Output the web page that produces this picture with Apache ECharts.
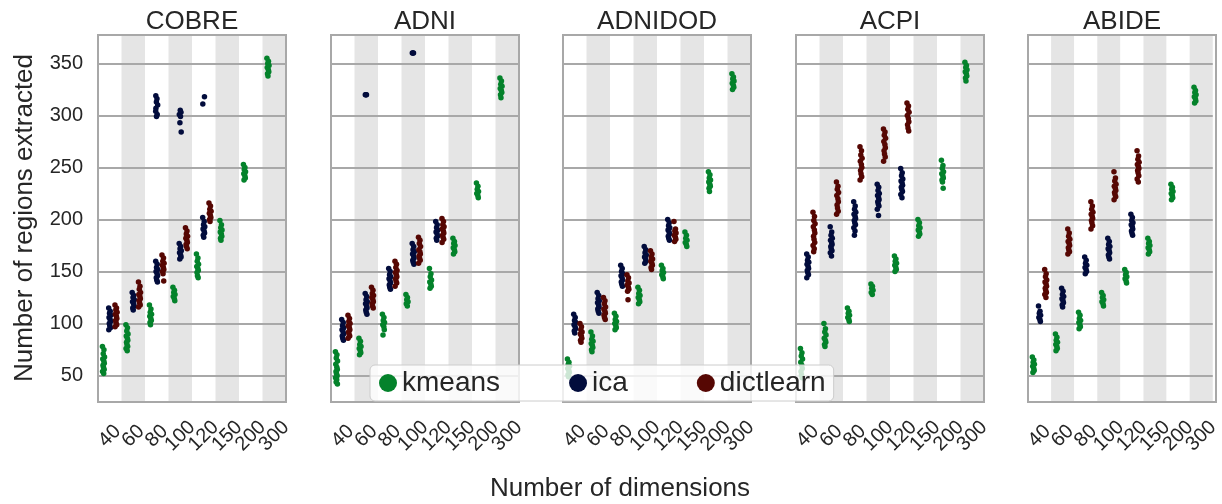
<!DOCTYPE html>
<html><head><meta charset="utf-8">
<script src="https://cdn.jsdelivr.net/npm/echarts@6/dist/echarts.min.js"></script>
<style>html,body{margin:0;padding:0;background:#fff}#c{width:1222px;height:504px}</style>
</head><body><div id="c"></div>
<script>
// ---------- data ----------
const dimensions = ['40','60','80','100','120','150','200','300'];
const datasets = ['COBRE','ADNI','ADNIDOD','ACPI','ABIDE'];
const methods = ['kmeans','ica','dictlearn'];

const COBRE_kmeans = [
 [78,75,71,68,66,64,62,60,58,56,54,52],
 [99,96,93,90,88,86,84,82,80,78,76,74],
 [118,114,111,109,107,105,103,101,99],
 [135,132,130,128,126,124,122],
 [167,163,160,157,155,153,151,149,146,144],
 [199,195,192,190,188,186,184,182,180],
 [253,250,248,246,244,242,240,238],
 [355,352,350,348,346,344,342,340,338]
];
const COBRE_ica = [
 [115,112,110,108,106,104,102,100,98,96,94],
 [130,127,125,123,121,119,117,115,113],
 [160,157,154,152,150,148,146,144,142,140,319,316,313,310,307,304,301,299],
 [177,174,172,170,168,166,164,162,305,303,301,299,293,284],
 [202,198,195,193,191,189,187,185,183,318,311],
 [],[],[]
];
const COBRE_dictlearn = [
 [118,115,113,111,109,107,105,103,101,99,97],
 [140,136,133,130,128,126,124,122,120,118,116],
 [166,163,160,158,156,154,152,150,148,141],
 [192,189,186,184,182,180,178,176,174,172],
 [216,213,210,208,206,204,202,200,198],
 [],[],[]
];

const ADNI_kmeans = [
 [73,70,67,64,61,58,56,54,52,50,48,46,44,42],
 [86,83,80,78,76,74,72,70],
 [109,106,103,101,99,97,94,89],
 [128,125,123,121,119,117],
 [153,148,145,142,140,138,136,134],
 [182,179,177,175,173,171,169,167],
 [235,232,229,227,225,223,221],
 [336,333,330,328,326,324,322,320,317]
];
const ADNI_ica = [
 [104,101,98,96,94,92,90,88,86,84],
 [129,126,123,121,119,117,115,113,111,109,320,320,320],
 [153,150,147,145,143,141,139,137,135,133],
 [177,174,171,169,167,165,163,161,159,157,360,360,360],
 [198,195,192,190,188,186,184,182,180],
 [],[],[]
];
const ADNI_dictlearn = [
 [108,105,102,100,98,96,94,92,90,88,86],
 [135,132,129,127,125,123,121,119,117,115],
 [160,157,154,151,149,147,145,143,141,139,136],
 [183,180,177,174,171,169,167,165,163,161,158],
 [201,198,195,193,191,189,187,185,183,181,178],
 [],[],[]
];

const ADNIDOD_kmeans = [
 [66,63,61,59,57,55,53,51,49],
 [92,88,85,83,81,79,77,75,73],
 [110,107,104,102,100,98,96,94],
 [135,132,129,127,125,123,121,119],
 [156,153,151,149,147,145,143],
 [188,185,182,180,178,176,174],
 [246,243,240,238,236,234,232,230,227],
 [340,337,335,333,331,329,327,325]
];
const ADNIDOD_ica = [
 [109,106,103,101,99,97,95,93,91],
 [130,127,124,122,120,118,116,114,112,110],
 [156,153,150,148,146,144,142,140,138,136],
 [174,171,168,166,164,162,160,158],
 [200,197,194,192,190,188,186,184,182,180],
 [],[],[]
];
const ADNIDOD_dictlearn = [
 [100,97,94,92,90,88,86,84,82],
 [125,122,119,116,114,112,110,108,106,104],
 [147,144,141,139,137,135,133,131,123],
 [170,167,164,162,160,158,156,154,152],
 [198,191,189,187,185,183,181,179],
 [],[],[]
];

const ACPI_kmeans = [
 [76,72,69,66,63,60,57,54,51,48],
 [100,95,92,89,86,84,82,80,78],
 [115,112,110,108,106,104,102],
 [138,136,134,132,130,128],
 [165,162,160,158,156,154,152,150],
 [200,197,194,192,190,188,186,184],
 [257,252,249,246,244,242,240,238,236,230],
 [351,348,346,344,342,340,338,336,333]
];
const ACPI_ica = [
 [167,164,161,159,157,155,153,151,149,147,144],
 [193,188,185,182,180,178,176,174,172,170,168,165],
 [217,213,210,207,205,203,201,199,197,195,192,189,185],
 [234,231,228,225,223,221,219,217,215,213,210,204],
 [249,245,242,239,237,235,233,231,229,227,224,221],
 [],[],[]
];
const ACPI_dictlearn = [
 [207,203,199,196,193,190,187,184,181,178,175,172,169],
 [236,232,229,226,223,220,217,214,211,208,205],
 [270,266,262,259,256,253,250,247,244,241,238],
 [287,284,281,278,275,272,269,266,263,260,256],
 [312,309,306,303,300,297,294,291,288,285],
 [],[],[]
];

const ABIDE_kmeans = [
 [68,65,63,61,59,57,55,53],
 [90,87,84,82,80,78,76,74],
 [111,108,105,103,101,99,97,95],
 [130,127,125,123,121,119,117],
 [152,149,147,145,143,141,139],
 [182,179,177,175,173,171,169,167],
 [234,231,229,227,225,223,221,219],
 [327,324,322,320,318,316,314,312]
];
const ABIDE_ica = [
 [117,112,110,108,106,104,102],
 [134,131,128,126,124,122,120,118,116],
 [164,161,158,156,154,152,150,148],
 [182,179,176,174,172,170,168,166,164,162],
 [205,202,199,197,195,193,191,189,187,185],
 [],[],[]
];
const ABIDE_dictlearn = [
 [152,148,145,142,140,138,136,134,132,130,128,125],
 [191,187,184,181,179,177,175,173,171,169,167],
 [217,213,210,207,205,203,201,199,197,194,191],
 [246,240,237,234,232,230,228,226,224,222,219],
 [266,261,258,255,253,251,249,247,245,242,239,236],
 [],[],[]
];

// ---------- layout / style ----------
const FONT = '"Liberation Sans", Arial, sans-serif';
const TEXT = '#262626';
const LINE = '#a8a8a8';
const PANEL_LEFT = [98, 331, 563, 796, 1028];
const PANEL_W = 188, PANEL_TOP = 35, PANEL_H = 367;
const COLORS = {kmeans:'#04822b', ica:'#020c3c', dictlearn:'#560703'};
const HUE_OFFSET = {kmeans:-0.267, ica:0, dictlearn:0.267};
const JITTER = [-0.045,0.02,-0.01,0.045,-0.03,0.015,0.035,-0.02,0.0,0.03,-0.04,0.01,-0.015,0.04,-0.035];

const SOURCE = {
  COBRE:{kmeans:COBRE_kmeans, ica:COBRE_ica, dictlearn:COBRE_dictlearn},
  ADNI:{kmeans:ADNI_kmeans, ica:ADNI_ica, dictlearn:ADNI_dictlearn},
  ADNIDOD:{kmeans:ADNIDOD_kmeans, ica:ADNIDOD_ica, dictlearn:ADNIDOD_dictlearn},
  ACPI:{kmeans:ACPI_kmeans, ica:ACPI_ica, dictlearn:ACPI_dictlearn},
  ABIDE:{kmeans:ABIDE_kmeans, ica:ABIDE_ica, dictlearn:ABIDE_dictlearn}
};

const grid = [], xAxis = [], yAxis = [], series = [], graphic = [];
datasets.forEach((d, i) => {
  grid.push({left:PANEL_LEFT[i], top:PANEL_TOP, width:PANEL_W, height:PANEL_H});
  xAxis.push({
    type:'category', gridIndex:i, data:dimensions, boundaryGap:true, z:0,
    axisLine:{show:false}, axisTick:{show:false}, splitLine:{show:false},
    splitArea:{show:true, areaStyle:{color:['#ffffff','#e5e5e5']}},
    axisLabel:{interval:0, rotate:45, align:'center', verticalAlign:'middle', margin:34,
               fontSize:20, color:TEXT, fontFamily:FONT}
  });
  xAxis.push({type:'value', gridIndex:i, min:-0.5, max:7.5, show:false});
  yAxis.push({
    type:'value', gridIndex:i, min:24.7, max:377.3, splitNumber:7, z:1,
    axisLine:{show:false}, axisTick:{show:false},
    axisLabel:{show:i===0, fontSize:20, color:TEXT, margin:15, fontFamily:FONT,
               showMinLabel:false, showMaxLabel:false},
    splitLine:{show:true, lineStyle:{color:LINE, width:1.8}}
  });
  methods.forEach(m => {
    const groups = SOURCE[d][m];
    const data = [];
    groups.forEach((vals, ci) => {
      vals.forEach((v, j) => {
        data.push([ci + HUE_OFFSET[m] + JITTER[j % JITTER.length], v]);
      });
    });
    series.push({
      type:'scatter', name:m, xAxisIndex:2*i+1, yAxisIndex:i, data,
      symbol:'circle', symbolSize:5.5, z:2, silent:true,
      itemStyle:{color:COLORS[m], opacity:1}
    });
  });
  graphic.push({type:'rect', z:5, silent:true,
    shape:{x:PANEL_LEFT[i], y:PANEL_TOP, width:PANEL_W, height:PANEL_H},
    style:{fill:'none', stroke:LINE, lineWidth:2}});
  graphic.push({type:'text', z:5, x:PANEL_LEFT[i] + PANEL_W/2, y:22,
    style:{text:d, fontSize:26, fontFamily:FONT, fill:TEXT, align:'center', verticalAlign:'middle'}});
});
graphic.push({type:'text', z:5, x:25, y:218, rotation:Math.PI/2,
  style:{text:'Number of regions extracted', fontSize:26, fontFamily:FONT, fill:TEXT, align:'center', verticalAlign:'middle'}});
graphic.push({type:'text', z:5, x:620, y:489,
  style:{text:'Number of dimensions', fontSize:26, fontFamily:FONT, fill:TEXT, align:'center', verticalAlign:'middle'}});

const chart = echarts.init(document.getElementById('c'), null, {renderer:'canvas'});
chart.setOption({
  animation:false,
  backgroundColor:'#ffffff',
  textStyle:{fontFamily:FONT},
  grid, xAxis, yAxis, series, graphic,
  legend:{
    data:methods, left:370, top:365, orient:'horizontal', icon:'circle',
    itemWidth:18, itemHeight:18, itemGap:69, padding:[4,8,4,9],
    backgroundColor:'rgba(255,255,255,0.8)', borderColor:'#cccccc', borderWidth:1, borderRadius:5,
    textStyle:{fontSize:28, color:TEXT, fontFamily:FONT}, z:10
  }
});
</script></body></html>
